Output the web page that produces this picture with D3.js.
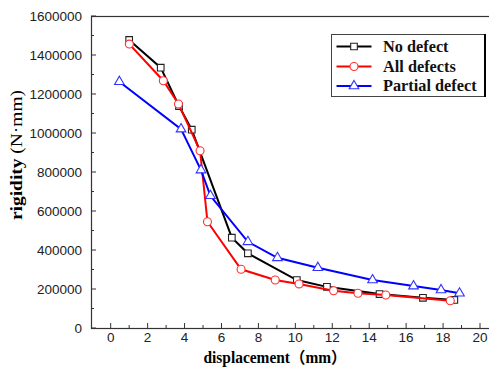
<!DOCTYPE html>
<html><head><meta charset="utf-8">
<script src="https://cdn.jsdelivr.net/npm/d3@7"></script>
<style>body{margin:0;background:#fff}svg{display:block}</style>
</head><body>
<script>
const noDefectX = [1.0, 2.71, 3.70, 4.39, 6.56, 7.43, 10.08, 11.71, 14.56, 16.91, 18.61];
const noDefectY = [1477000, 1335000, 1138000, 1017000, 463000, 383000, 246000, 211000, 174000, 155000, 144000];
const allDefectsX = [1.01, 2.85, 3.67, 4.84, 5.24, 7.06, 8.91, 10.2, 12.07, 13.39, 14.9, 18.39];
const allDefectsY = [1456000, 1268000, 1149000, 909000, 545000, 301000, 246000, 226000, 191000, 178000, 169000, 140000];
const partialX = [0.47, 3.81, 4.89, 5.40, 7.43, 9.03, 11.22, 14.18, 16.4, 17.89, 18.89];
const partialY = [1263000, 1020000, 810000, 678000, 442000, 360000, 309000, 246000, 215000, 195000, 178000];
const seriesNames = ["No defect", "All defects", "Partial defect"];
const xTicks = [0,2,4,6,8,10,12,14,16,18,20];
const yTicks = [0,200000,400000,600000,800000,1000000,1200000,1400000,1600000];

(function () {
const W = 489, H = 370;
const svg = d3.select("body").append("svg").attr("width", W).attr("height", H);
const x = d3.scaleLinear().domain([0, 20]).range([110.7, 480]);
const y = d3.scaleLinear().domain([0, 1600000]).range([328, 16]);
const pL = 91, pT = 16, pR = 492, pB = 328;

// frame
svg.append("rect").attr("x", pL + 0.5).attr("y", pT + 0.5)
  .attr("width", pR - pL).attr("height", pB - pT)
  .attr("fill", "none").attr("stroke", "#333").attr("stroke-width", 1.2);

// x ticks (inward)
const xMinor = d3.range(0, 21, 1);
svg.append("g").selectAll("line").data(xMinor).join("line")
  .attr("x1", d => x(d)).attr("x2", d => x(d))
  .attr("y1", pB).attr("y2", d => pB - (d % 2 === 0 ? 5 : 3))
  .attr("stroke", "#333").attr("stroke-width", 1);
svg.append("g").selectAll("text").data(xTicks).join("text")
  .attr("x", d => x(d)).attr("y", 342)
  .attr("text-anchor", "middle")
  .attr("font-family", "'Liberation Sans', Arial, sans-serif").attr("font-size", 13.5)
  .attr("fill", "#222").text(d => d);

// y ticks (inward)
const yMinor = d3.range(0, 1600001, 100000);
svg.append("g").selectAll("line").data(yMinor).join("line")
  .attr("y1", d => y(d)).attr("y2", d => y(d))
  .attr("x1", pL).attr("x2", d => pL + (d % 200000 === 0 ? 5 : 3))
  .attr("stroke", "#333").attr("stroke-width", 1);
svg.append("g").selectAll("text").data(yTicks).join("text")
  .attr("x", 82).attr("y", d => y(d) + 4.7)
  .attr("text-anchor", "end")
  .attr("font-family", "'Liberation Sans', Arial, sans-serif").attr("font-size", 13.5)
  .attr("fill", "#222").text(d => d);

// axis titles
svg.append("text").attr("x", 275).attr("y", 363)
  .attr("text-anchor", "middle")
  .attr("font-family", "'Liberation Serif', 'Times New Roman', 'Noto Sans CJK SC', serif")
  .attr("font-weight", "bold").attr("font-size", 16)
  .attr("textLength", 143).attr("lengthAdjust", "spacingAndGlyphs")
  .text("displacement（mm）");
const yl = svg.append("text")
  .attr("transform", "translate(22,155) rotate(-90)")
  .attr("text-anchor", "middle")
  .attr("font-family", "'Liberation Serif', 'Times New Roman', serif")
  .attr("font-size", 16)
  .attr("textLength", 130).attr("lengthAdjust", "spacingAndGlyphs");
yl.append("tspan").attr("font-weight", "bold").text("rigidity ");
yl.append("tspan").text("(N·mm)");

// series
const series = [
  {name: seriesNames[0], xs: noDefectX, ys: noDefectY, color: "#000", marker: "square", mstroke: "#222"},
  {name: seriesNames[1], xs: allDefectsX, ys: allDefectsY, color: "#ff0000", marker: "circle", mstroke: "#ff3030"},
  {name: seriesNames[2], xs: partialX, ys: partialY, color: "#0000ff", marker: "triangle", mstroke: "#3030ff"}
];
const line = d3.line().x(d => x(d[0])).y(d => y(d[1]));
const sym = {
  square: d3.symbol().type(d3.symbolSquare).size(44),
  circle: d3.symbol().type(d3.symbolCircle).size(50),
  triangle: d3.symbol().type(d3.symbolTriangle).size(40)
};
series.forEach(s => {
  const pts = s.xs.map((v, i) => [v, s.ys[i]]);
  svg.append("path").datum(pts).attr("d", line)
    .attr("fill", "none").attr("stroke", s.color).attr("stroke-width", 2);
  svg.append("g").selectAll("path").data(pts).join("path")
    .attr("d", sym[s.marker])
    .attr("transform", d => `translate(${x(d[0])},${y(d[1])})`)
    .attr("fill", "#fff").attr("stroke", s.mstroke).attr("stroke-width", 1.1);
});

// legend
const lg = svg.append("g");
lg.append("rect").attr("x", 331.5).attr("y", 34.5).attr("width", 153).attr("height", 62)
  .attr("fill", "#fff").attr("stroke", "#444").attr("stroke-width", 1);
lg.append("line").attr("x1", 485).attr("x2", 485).attr("y1", 34).attr("y2", 97)
  .attr("stroke", "#000").attr("stroke-width", 2);
const rowsY = [46.5, 66.5, 86];
series.forEach((s, i) => {
  const g = lg.append("g");
  g.append("line").attr("x1", 336.5).attr("x2", 371.5).attr("y1", rowsY[i]).attr("y2", rowsY[i])
    .attr("stroke", s.color).attr("stroke-width", 2);
  g.append("path").attr("d", sym[s.marker]).attr("transform", `translate(354,${rowsY[i]})`)
    .attr("fill", "#fff").attr("stroke", s.mstroke).attr("stroke-width", 1.1);
  g.append("text").attr("x", 383).attr("y", rowsY[i] + 5)
    .attr("font-family", "'Liberation Serif', 'Times New Roman', serif")
    .attr("font-weight", "bold").attr("font-size", 16.3).attr("fill", "#111")
    .text(s.name);
});
})();
</script>
</body></html>
